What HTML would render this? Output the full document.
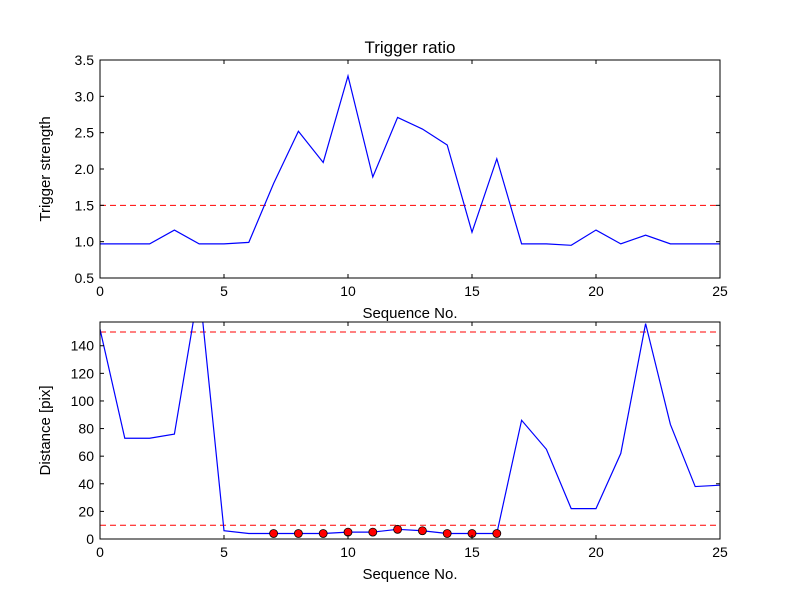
<!DOCTYPE html>
<html><head><meta charset="utf-8"><style>
body{margin:0;background:#fff;}
svg text{font-family:"Liberation Sans",sans-serif;fill:#000;}
</style></head><body>
<svg id="chart" width="800" height="600"></svg>
<script>
const xs = [0,1,2,3,4,5,6,7,8,9,10,11,12,13,14,15,16,17,18,19,20,21,22,23,24,25];
const strength = [0.97,0.97,0.97,1.16,0.97,0.97,0.99,1.8,2.52,2.09,3.28,1.89,2.71,2.55,2.33,1.13,2.14,0.97,0.97,0.95,1.16,0.97,1.09,0.97,0.97,0.97];
const distance = [152,73,73,76,183,6,4,4,4,4,5,5,7,6,4,4,4,86,65,22,22,62,156,83,38,39];
const markedIdx = [7,8,9,10,11,12,13,14,15,16];
const xTicks = [0,5,10,15,20,25];
const topYTicks = [0.5,1.0,1.5,2.0,2.5,3.0,3.5];
const botYTicks = [0,20,40,60,80,100,120,140];
const topThreshold = [1.5];
const botThresholds = [10,150];

const NS="http://www.w3.org/2000/svg";
const svg=document.getElementById('chart');
function mk(tag,attrs,parent){const e=document.createElementNS(NS,tag);for(const k in attrs)e.setAttribute(k,attrs[k]);(parent||svg).appendChild(e);return e;}

function panel(id,top,bottom,ymin,ymax,yticks,ylabel,yfmt){
  const L=100,R=720;
  const sx=v=>L+(v-0)/(25-0)*(R-L);
  const sy=v=>bottom-(v-ymin)/(ymax-ymin)*(bottom-top);
  const g=mk('g',{});
  
  
  const cp=mk('clipPath',{id:id+'-clip'},g);
  mk('rect',{x:L,y:top,width:R-L,height:bottom-top},cp);
  const plot=mk('g',{'clip-path':'url(#'+id+'-clip)'},g);
  return {g,plot,sx,sy,L,R,top,bottom,finish(){
    const fr=mk('rect',{x:L,y:top,width:R-L,height:bottom-top,fill:'none',stroke:'#000','stroke-width':1},g);
    
    
    xTicks.forEach(t=>{const x=sx(t);
      mk('line',{x1:x,x2:x,y1:bottom,y2:bottom-4,stroke:'#000'},g);
      mk('line',{x1:x,x2:x,y1:top,y2:top+4,stroke:'#000'},g);
      const tx=mk('text',{x:x,y:bottom+18,'text-anchor':'middle','font-size':14},g);tx.textContent=t;
      
      
    });
    yticks.forEach(t=>{const y=sy(t);
      mk('line',{x1:L,x2:L+4,y1:y,y2:y,stroke:'#000'},g);
      mk('line',{x1:R,x2:R-4,y1:y,y2:y,stroke:'#000'},g);
      const tx=mk('text',{x:L-6,y:y+5,'text-anchor':'end','font-size':14},g);tx.textContent=yfmt(t);
      
      
    });
    const xl=mk('text',{x:(L+R)/2,y:bottom+40,'text-anchor':'middle','font-size':15},g);xl.textContent='Sequence No.';
    
    
    const yl=mk('text',{x:0,y:0,'text-anchor':'middle','font-size':15,transform:`translate(${L-50},${(top+bottom)/2}) rotate(-90)`},g);yl.textContent=ylabel;
    
    
  }};
}

// top panel
const p1=panel('top',60,278,0.5,3.5,topYTicks,'Trigger strength',v=>v.toFixed(1));
topThreshold.forEach(v=>{const l=mk('line',{x1:p1.L,x2:p1.R,y1:p1.sy(v),y2:p1.sy(v),stroke:'#f00','stroke-dasharray':'6,4','stroke-width':1},p1.plot);
  
  });
const l1=mk('polyline',{points:xs.map((x,i)=>p1.sx(x)+','+p1.sy(strength[i])).join(' '),fill:'none',stroke:'#00f','stroke-width':1.2},p1.plot);


p1.finish();
const title=mk('text',{x:410,y:53,'text-anchor':'middle','font-size':17});title.textContent='Trigger ratio';



// bottom panel
const p2=panel('bot',322,539,0,157.2,botYTicks,'Distance [pix]',v=>String(v));
botThresholds.forEach(v=>{const l=mk('line',{x1:p2.L,x2:p2.R,y1:p2.sy(v),y2:p2.sy(v),stroke:'#f00','stroke-dasharray':'6,4','stroke-width':1},p2.plot);
  
  });
const l2=mk('polyline',{points:xs.map((x,i)=>p2.sx(x)+','+p2.sy(distance[i])).join(' '),fill:'none',stroke:'#00f','stroke-width':1.2},p2.plot);


markedIdx.forEach(i=>{const c=mk('circle',{cx:p2.sx(xs[i]),cy:p2.sy(distance[i]),r:4,fill:'#f00',stroke:'#000','stroke-width':0.8},p2.plot);
  
  });
p2.finish();
</script>
</body></html>
